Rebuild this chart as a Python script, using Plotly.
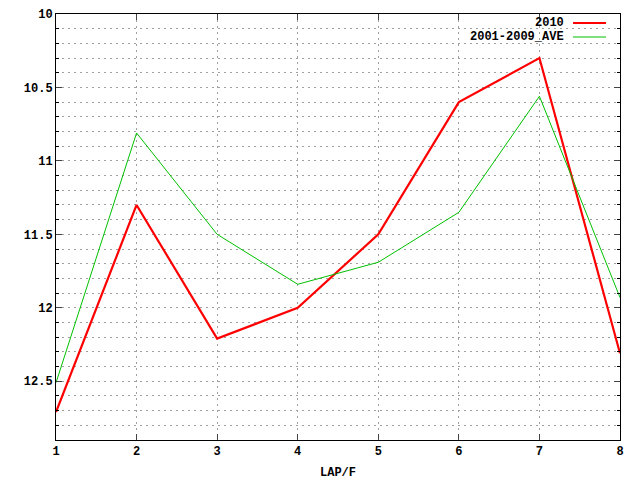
import plotly.graph_objects as go

laps = [1, 2, 3, 4, 5, 6, 7, 8]
y2010 = [12.71, 11.30, 12.21, 12.00, 11.50, 10.60, 10.30, 12.31]
yave = [12.51, 10.81, 11.50, 11.84, 11.69, 11.35, 10.56, 11.93]
names = ["2010", "2001-2009_AVE"]
colors = ["#ff0000", "#00c000"]
widths = [2.2, 1]

FONT = dict(family="Liberation Mono", size=12, color="black")

fig = go.Figure()
for ys, n, c, w in zip([y2010, yave], names, colors, widths):
    fig.add_trace(go.Scatter(x=laps, y=ys, mode="lines", name=n,
                             line=dict(color=c, width=w), showlegend=False))

# gnuplot-style legend (text right aligned, sample on the right)
for i, (n, c, w) in enumerate(zip(names, colors, widths)):
    yy = 1 - (23 - 14 + i * 14) / 426
    fig.add_annotation(x=(566 - 56) / 564, y=yy, xref="paper", yref="paper",
                       text="<b>" + n + "</b>", showarrow=False, xanchor="right",
                       yanchor="middle", font=FONT)
    fig.add_shape(type="line", xref="paper", yref="paper",
                  x0=(573 - 56) / 564, x1=(606 - 56) / 564, y0=yy, y1=yy,
                  line=dict(color=c, width=w))

DASH = "2px,4px"
grid = dict(showgrid=True, gridcolor="#a0a0a0", griddash=DASH, gridwidth=1)
fig.update_xaxes(range=[1, 8], dtick=1, ticks="inside", ticklen=6, mirror="allticks",
                 showline=True, linecolor="black", linewidth=1, zeroline=False,
                 automargin=False,
                 tickfont=FONT, tickprefix="<b>", ticksuffix="</b>",
                 title=dict(text="<b>LAP/F</b>", font=FONT, standoff=14), **grid)
fig.update_yaxes(range=[12.9, 10], dtick=0.5, tick0=10, ticks="inside", ticklen=6,
                 mirror="allticks", showline=True, linecolor="black", linewidth=1,
                 zeroline=False, automargin=False,
                 tickfont=FONT, tickprefix="<b>", ticksuffix="</b>",
                 minor=dict(dtick=0.1, ticks="inside", ticklen=3, showgrid=True,
                            gridcolor="#a0a0a0", griddash=DASH, tickcolor="black"),
                 **grid)
fig.update_layout(width=640, height=480,
                  margin=dict(l=56, r=20, t=14, b=40, autoexpand=False),
                  plot_bgcolor="white", paper_bgcolor="white", font=FONT)
fig.write_html("out.html", config={"displayModeBar": False},
               post_script="document.body.style.margin='0';document.body.style.overflow='hidden';")
